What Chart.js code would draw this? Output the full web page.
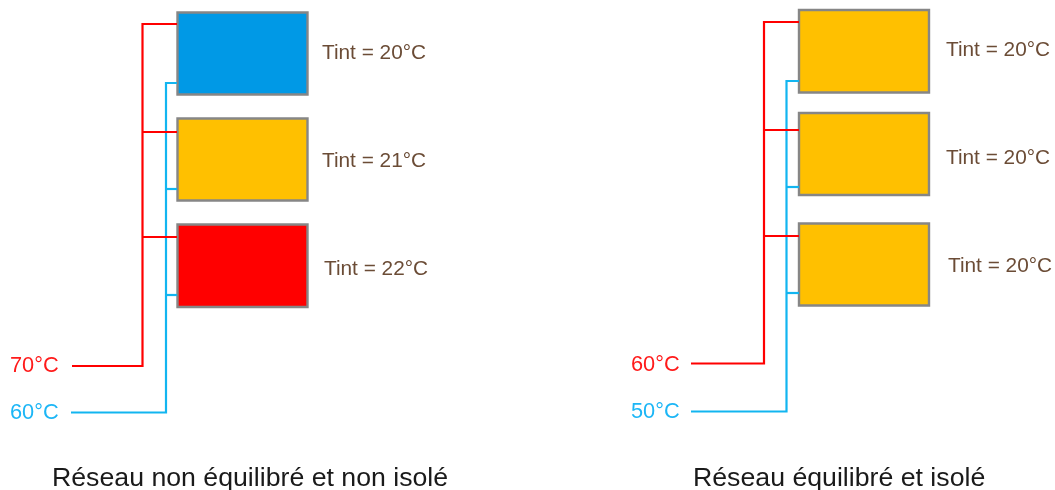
<!DOCTYPE html>
<html>
<head>
<meta charset="utf-8">
<style>
html, body { margin: 0; padding: 0; background: #fff; overflow: hidden; }
canvas { display: block; }
</style>
<script src="https://cdn.jsdelivr.net/npm/chart.js@4"></script>
</head>
<body>
<canvas id="diagram" width="1055" height="490"></canvas>
<script>
// Radiators: [left, right, top, bottom]
const radiators = [
    [177.5, 307.5, 12.5, 94.5],
    [177.5, 307.5, 118.5, 200.5],
    [177.5, 307.5, 224.5, 307],
    [799, 929, 10, 92.5],
    [799, 929, 113, 195],
    [799, 929, 223.5, 305.5]
];
const radiatorColors = ['#0099e6', '#ffc000', '#ff0000', '#ffc000', '#ffc000', '#ffc000'];

// Pipes: [x, y] polylines
const redPipes = [
    [[72, 366], [142.5, 366], [142.5, 24], [177, 24]],
    [[142.5, 132], [177, 132]],
    [[142.5, 237], [177, 237]],
    [[691, 363.5], [764, 363.5], [764, 22], [799, 22]],
    [[764, 130], [799, 130]],
    [[764, 236], [799, 236]]
];
const bluePipes = [
    [[71, 412.5], [166, 412.5], [166, 83], [177, 83]],
    [[166, 189], [177, 189]],
    [[166, 295], [177, 295]],
    [[691, 411.5], [786.5, 411.5], [786.5, 81], [799, 81]],
    [[786.5, 187], [799, 187]],
    [[786.5, 293], [799, 293]]
];

// Text: [text, x, y]
const tintLabels = [
    ['Tint = 20°C', 322, 53],
    ['Tint = 21°C', 322, 161],
    ['Tint = 22°C', 324, 269],
    ['Tint = 20°C', 946, 50],
    ['Tint = 20°C', 946, 158],
    ['Tint = 20°C', 948, 266]
];
const supplyLabels = [
    ['70°C', 10, 366],
    ['60°C', 631, 365]
];
const returnLabels = [
    ['60°C', 10, 413],
    ['50°C', 631, 412]
];
const captions = [
    ['Réseau non équilibré et non isolé', 52, 479],
    ['Réseau équilibré et isolé', 693, 479]
];

const toPoints = list => list.map(p => ({ x: p[0], y: p[1] }));

const datasets = [];
redPipes.forEach(p => datasets.push({ data: toPoints(p), borderColor: '#ff0000', borderWidth: 2.2 }));
bluePipes.forEach(p => datasets.push({ data: toPoints(p), borderColor: '#12b5f0', borderWidth: 2.2 }));
radiators.forEach((r, i) => {
    datasets.push({
        data: toPoints([[r[0], r[2]], [r[1], r[2]], [r[1], r[3]], [r[0], r[3]], [r[0], r[2]]]),
        borderColor: '#868686',
        borderWidth: 2.4,
        borderCapStyle: 'square',
        backgroundColor: radiatorColors[i],
        fill: 'shape'
    });
});

// Draws the labels at their data positions
const textPlugin = {
    id: 'diagramText',
    afterDraw(chart) {
        const ctx = chart.ctx;
        const put = (list, color, size) => {
            ctx.fillStyle = color;
            ctx.font = size + 'px "Liberation Sans"';
            ctx.textBaseline = 'middle';
            ctx.textAlign = 'left';
            list.forEach(l => {
                ctx.fillText(l[0], chart.scales.x.getPixelForValue(l[1]), chart.scales.y.getPixelForValue(l[2]));
            });
        };
        ctx.save();
        put(tintLabels, '#6b4c36', 20.8);
        put(supplyLabels, '#ff1a1a', 21.8);
        put(returnLabels, '#1cb6f6', 21.8);
        put(captions, '#1a1a1a', 26.7);
        ctx.restore();
    }
};

new Chart(document.getElementById('diagram').getContext('2d'), {
    type: 'line',
    data: { datasets: datasets },
    options: {
        responsive: false,
        animation: false,
        devicePixelRatio: 1,
        parsing: false,
        layout: { padding: 0 },
        elements: {
            point: { radius: 0 },
            line: { tension: 0, borderJoinStyle: 'miter', borderCapStyle: 'butt' }
        },
        plugins: { legend: { display: false }, tooltip: { enabled: false } },
        scales: {
            x: { type: 'linear', min: 0, max: 1055, display: false },
            y: { type: 'linear', min: 0, max: 490, reverse: true, display: false }
        }
    },
    plugins: [textPlugin]
});
</script>
</body>
</html>
